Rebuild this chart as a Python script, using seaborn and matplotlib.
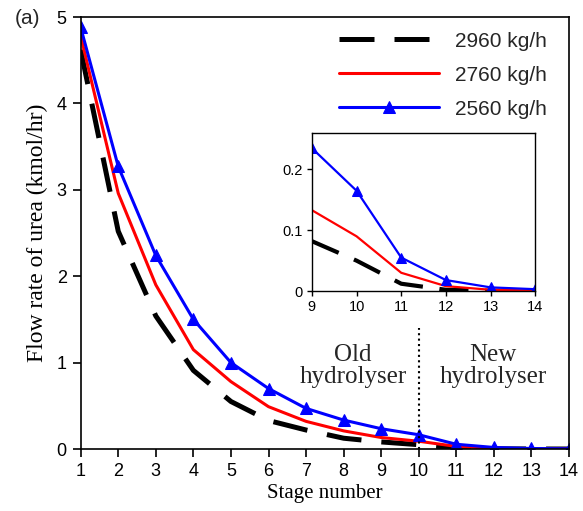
import numpy as np
import pandas as pd
import matplotlib
matplotlib.use("Agg")
import matplotlib.pyplot as plt
import seaborn as sns

# ---- data ----
stages = list(range(1, 15))
flow_2960 = [4.62, 2.52, 1.54, 0.91, 0.55, 0.33, 0.22, 0.125, 0.082, 0.05, 0.012, 0.002, 0.0005, 0.0]
flow_2760 = [4.78, 2.96, 1.90, 1.15, 0.78, 0.49, 0.32, 0.21, 0.133, 0.09, 0.03, 0.008, 0.002, 0.001]
flow_2560 = [4.88, 3.27, 2.24, 1.50, 1.00, 0.70, 0.47, 0.335, 0.235, 0.165, 0.055, 0.018, 0.006, 0.003]
series_labels = ["2960 kg/h", "2760 kg/h", "2560 kg/h"]
x_ticks = list(range(1, 15))
y_ticks = [0, 1, 2, 3, 4, 5]
inset_x_ticks = [9, 10, 11, 12, 13, 14]
inset_y_ticks = [0, 0.1, 0.2]
inset_y_labels = ["0", "0.1", "0.2"]

df = pd.DataFrame({"stage": stages, "f2960": flow_2960, "f2760": flow_2760, "f2560": flow_2560})

sns.set_theme(style="ticks")
plt.rcParams["font.family"] = ["Liberation Sans", "DejaVu Sans"]
plt.rcParams["axes.linewidth"] = 1.2

fig = plt.figure(figsize=(5.83, 5.11), dpi=100)
ax = fig.add_axes([0.1384, 0.1213, 0.976 - 0.1384, 0.9667 - 0.1213])

def draw(a, d, lw_black, lw_col, ms, labels=True):
    sns.lineplot(data=d, x="stage", y="f2960", ax=a, color="black", lw=lw_black,
                 linestyle=(0, (7, 4)), label=series_labels[0] if labels else None, legend=False)
    sns.lineplot(data=d, x="stage", y="f2760", ax=a, color="#ff0000", lw=lw_col,
                 label=series_labels[1] if labels else None, legend=False)
    sns.lineplot(data=d, x="stage", y="f2560", ax=a, color="#0000ff", lw=lw_col,
                 marker="^", markersize=ms, markeredgecolor="#0000ff",
                 label=series_labels[2] if labels else None, legend=False)

draw(ax, df, 3.6, 2.2, 8.5)
ax.set_xlim(1, 14)
ax.set_ylim(0, 5)
ax.set_xticks(x_ticks)
ax.set_yticks(y_ticks)
ax.tick_params(axis="both", labelsize=13, length=6, width=1.2, direction="out", pad=4,
               colors="black")
ax.set_xlabel("Stage number", family="Liberation Serif", fontsize=15, labelpad=3, color="black")
ax.set_ylabel("Flow rate of urea (kmol/hr)", family="Liberation Serif", fontsize=17,
              labelpad=6, color="black")
for s in ax.spines.values():
    s.set_color("black")
    s.set_linewidth(1.2)

# divider
ax.plot([10, 10], [0, 1.4], color="black", lw=1.5, linestyle=(0, (1, 1.6)))
ax.text(8.25, 0.96, "Old\nhydrolyser", ha="center", va="center", family="Liberation Serif",
        fontsize=18, linespacing=1.0)
ax.text(11.98, 0.96, "New\nhydrolyser", ha="center", va="center", family="Liberation Serif",
        fontsize=18, linespacing=1.0)

leg = ax.legend(frameon=False, loc="upper right", bbox_to_anchor=(0.985, 1.0),
                handlelength=4.8, fontsize=15, labelspacing=0.72, handletextpad=0.8,
                borderaxespad=0.3)

fig.text(15 / 583, 1 - 18 / 511, "(a)", fontsize=15, ha="left", va="center")

# inset
axi = fig.add_axes([0.535, 0.4305, 0.918 - 0.535, 0.7397 - 0.4305])
dfi = df[df["stage"] >= 9]
draw(axi, dfi, 3.0, 1.6, 7, labels=False)
axi.set_xlim(9, 14)
axi.set_ylim(0, 0.26)
axi.set_xticks(inset_x_ticks)
axi.set_yticks(inset_y_ticks)
axi.set_yticklabels(inset_y_labels)
axi.tick_params(axis="both", labelsize=10.5, length=3.5, width=1.0, direction="out", pad=3,
                colors="black")
axi.set_xlabel("")
axi.set_ylabel("")
for s in axi.spines.values():
    s.set_color("black")
    s.set_linewidth(1.0)
axi.set_facecolor("white")

fig.savefig("out.png", dpi=100)
